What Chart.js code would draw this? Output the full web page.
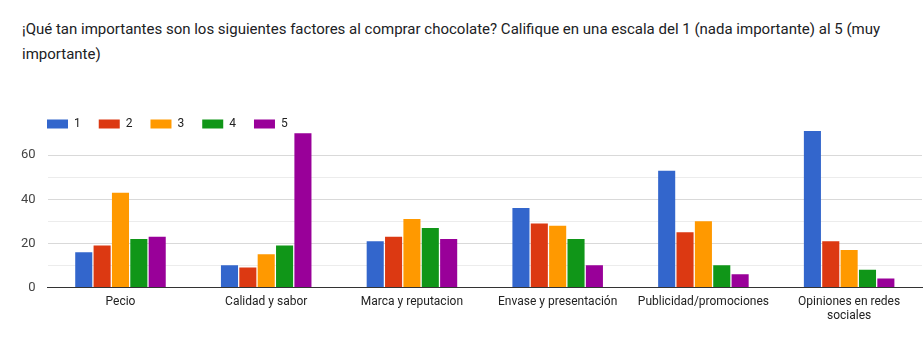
<!DOCTYPE html>
<html><head><meta charset="utf-8">
<script src="https://cdn.jsdelivr.net/npm/chart.js@4/dist/chart.umd.min.js"></script>
<style>
html,body{margin:0;padding:0;background:#fff;}
#wrap{position:relative;width:924px;height:358px;}
#title{position:absolute;left:22px;top:17px;width:880px;font-family:Roboto,Arial,sans-serif;font-size:15px;line-height:25px;color:#202124;}
#c{position:absolute;left:0;top:0;}
</style></head>
<body>
<div id="wrap">
<div id="title">¡Qué tan importantes son los siguientes factores al comprar chocolate? Califique en una escala del 1 (nada importante) al 5 (muy importante)</div>
<canvas id="c" width="924" height="358"></canvas>
</div>
<script>
const categories = ["Pecio", "Calidad y sabor", "Marca y reputacion", "Envase y presentación", "Publicidad/promociones", ["Opiniones en redes", "sociales"]];
const seriesNames = ["1", "2", "3", "4", "5"];
const s1 = [16, 10, 21, 36, 53, 71];
const s2 = [19, 9, 23, 29, 25, 21];
const s3 = [43, 15, 31, 28, 30, 17];
const s4 = [22, 19, 27, 22, 10, 8];
const s5 = [23, 70, 22, 10, 6, 4];
const colors = ["#3366cc", "#dc3912", "#ff9900", "#109618", "#990099"];
const yTickLabels = [0, 20, 40, 60];

const legendShift = {
  id: 'legendShift',
  beforeDraw(chart) {
    const lg = chart.legend;
    if (!lg || lg._shifted) return;
    lg._shifted = true;
    const dx = 47 - (lg.left + 18);
    const dy = 118 - (lg.top + 18);
    lg.left += dx; lg.right += dx; lg.top += dy; lg.bottom += dy;
  }
};

const all = [s1, s2, s3, s4, s5];
new Chart(document.getElementById('c'), {
  type: 'bar',
  data: {
    labels: categories,
    datasets: all.map((d, i) => ({
      label: seriesNames[i], data: d, backgroundColor: colors[i],
      borderWidth: 0, barPercentage: 0.93, categoryPercentage: 0.63
    }))
  },
  options: {
    responsive: false, animation: false,
    layout: { padding: { left: 9, right: 2, top: 91, bottom: 35 } },
    plugins: {
      title: { display: false },
      tooltip: { enabled: false },
      legend: {
        position: 'top', align: 'start', fullSize: false,
        labels: { boxWidth: 21, boxHeight: 9, padding: 18, color: '#222',
          font: { family: 'Roboto, Arial, sans-serif', size: 12 } }
      }
    },
    scales: {
      x: {
        grid: { display: false },
        border: { color: '#333', width: 1 },
        ticks: { color: '#222', font: { family: 'Roboto, Arial, sans-serif', size: 12, lineHeight: 1.15 }, maxRotation: 0, autoSkip: false, padding: 0 }
      },
      y: {
        min: 0, max: 71,
        afterBuildTicks: (s) => { s.ticks = s.ticks.filter(t => t.value % 10 === 0); },
        ticks: { stepSize: 10, color: '#444', padding: 12,
          font: { family: 'Roboto, Arial, sans-serif', size: 13 },
          callback: (v) => yTickLabels.includes(v) ? String(v) : '' },
        grid: { color: (ctx) => (ctx.tick && yTickLabels.includes(ctx.tick.value)) ? '#d9d9d9' : '#ececec', drawTicks: false },
        border: { display: false }
      }
    }
  },
  plugins: [legendShift]
});
</script>
</body></html>
